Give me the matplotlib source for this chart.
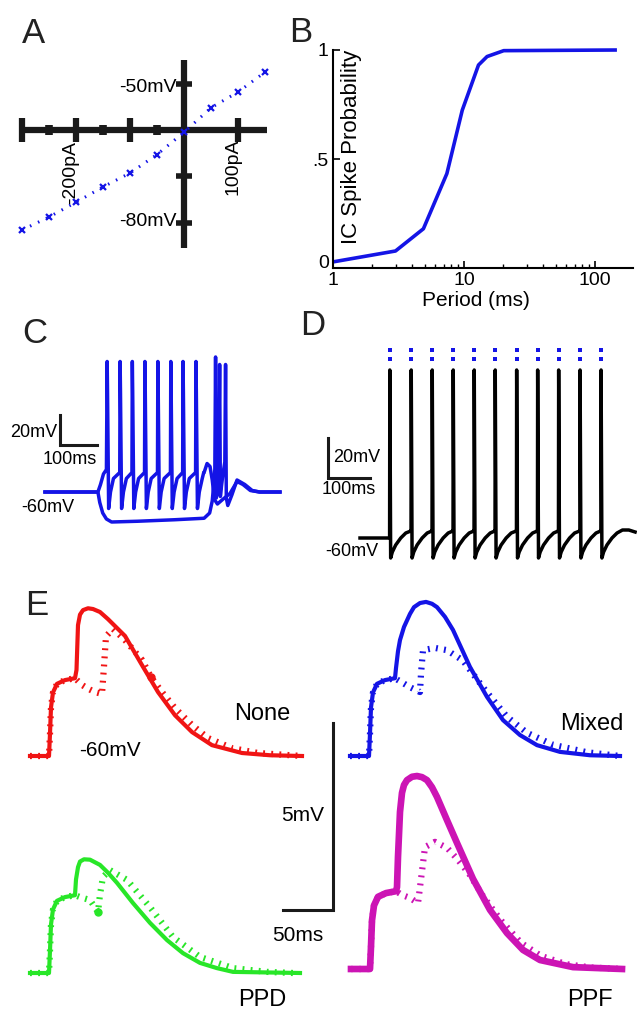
import matplotlib.pyplot as plt
import matplotlib.transforms as mtransforms
import numpy as np

plt.rcParams['font.family'] = ['Liberation Sans', 'DejaVu Sans']

W, H = 637, 1013
fig = plt.figure(figsize=(W / 100, H / 100), dpi=100)

# ---- data ----
# A: I-V relation (pA, mV)
iv_current = [-300, -250, -200, -150, -100, -50, 0, 50, 100, 150]
iv_voltage = [-81.6, -78.8, -75.6, -72.3, -69.3, -65.3, -60.5, -55.2, -51.8, -47.5]
iv_big_ticks_i = [-300, -200, -100, 100]
iv_small_ticks_i = [-250, -150, -50]
iv_big_ticks_v = [-50, -70, -80]
iv_small_ticks_v = [-55, -65, -75]

# B: spike probability vs stimulus period
period_ms = [1, 3.0, 4.9, 7.4, 9.7, 12.9, 15.0, 20.1, 147]
spike_prob = [0.028, 0.078, 0.18, 0.433, 0.724, 0.931, 0.97, 0.997, 1.0]

# C: current-clamp responses (ms, mV)
c_spike_t = [168, 203, 236, 270, 305, 340, 373, 408]
c_peak, c_trough, c_thresh = 27, -71, -47
c_pre_t = [0, 143, 150, 158, 166]
c_pre_v = [-60, -60, -55, -48, -45]
c_post_t = [430, 438, 446, 452, 458, 466, 480, 500, 519, 535, 555, 580, 635]
c_post_v = [-47, -41, -43, -52, -65, -68, -65, -61, -53, -55, -59, -60, -60]
c_hyp_t = [0, 143, 148, 156, 166, 180, 250, 350, 430, 445, 452, 456, 459, 461, 463,
           466, 469, 472, 474, 477, 481, 486, 488, 490, 494, 505, 519, 540, 560, 580, 635]
c_hyp_v = [-60, -60, -67, -74, -78, -80, -79.5, -78.5, -77.5, -74, -66, -55, -45, 30, -64,
           -58, -50, 25, -63, -56, -48, -40, 25, -64, -69, -62, -52, -55, -59, -60, -60]

# D: entrained firing to periodic input (ms, mV)
d_spike_t = [71, 122, 172, 222, 272, 322, 373, 423, 473, 524, 574]
d_stim_t = [71, 122, 172, 222, 272, 322, 373, 423, 473, 524, 574]
d_peak, d_trough = 24, -70
d_rec_dt = [2, 6, 14, 26, 38]
d_rec_v = [-70, -67, -63.5, -60, -57.5]
d_tail_t = [580, 588, 600, 612, 625, 640, 655]
d_tail_v = [-67, -63.5, -60, -57.5, -56, -56, -57]

# E: paired EPSPs (ms, mV above -60 mV)
epsp1_t = [0, 19, 20, 21, 23, 27, 35, 45]
epsp1_v = [0, 0, 0.6, 1.3, 1.7, 1.93, 2.03, 2.08]

red_t = [46.5, 48, 50, 53, 58, 63, 70, 78, 95, 112, 128, 145, 162, 182, 212, 240, 272]
red_v = [2.3, 3.5, 3.78, 3.9, 3.95, 3.93, 3.85, 3.66, 3.21, 2.43, 1.71, 1.09, 0.64, 0.29, 0.08, 0.02, 0]
red_pp_t = [52, 58, 65, 72, 74, 76, 83, 95, 112, 121, 132, 145, 162, 178, 202, 228, 272]
red_pp_v = [1.9, 1.8, 1.71, 1.66, 2.4, 3.2, 3.4, 3.1, 2.57, 2.11, 1.71, 1.28, 0.83, 0.48, 0.21, 0.08, 0]
red_dot = (121, 2.11)

blue_t = [46, 48, 50, 54, 60, 64, 70, 76, 82, 87, 95, 103, 120, 137, 153, 170, 187, 210, 240, 270]
blue_v = [2.35, 2.8, 3.1, 3.45, 3.8, 3.98, 4.09, 4.12, 4.07, 3.98, 3.72, 3.37, 2.38, 1.58, 0.96, 0.56,
          0.29, 0.11, 0.02, 0]
blue_pp_t = [48, 60, 70, 71, 73, 85, 97, 113, 120, 137, 157, 177, 203, 237, 270]
blue_pp_v = [2.03, 1.84, 1.71, 2.2, 2.83, 2.89, 2.83, 2.55, 2.3, 1.7, 1.05, 0.62, 0.3, 0.1, 0]

green_t = [46, 48, 50, 54, 60, 70, 78, 87, 103, 120, 137, 153, 170, 187, 203, 270]
green_v = [2.5, 2.83, 2.98, 3.04, 3.03, 2.89, 2.68, 2.41, 1.87, 1.34, 0.88, 0.53, 0.27, 0.13, 0.03, 0]
green_pp_t = [50, 60, 68, 70, 73, 80, 97, 120, 143, 170, 203, 237, 263]
green_pp_v = [2.03, 1.95, 1.63, 2.1, 2.57, 2.75, 2.49, 1.76, 0.96, 0.43, 0.13, 0.03, 0]
green_dot = (68, 1.63)

mag_t = [46, 47, 49, 51, 53, 56, 61, 66, 71, 76, 81, 86, 96, 106, 122, 139, 156, 172, 189, 222, 271]
mag_v = [2.19, 3.0, 4.2, 4.71, 4.92, 5.05, 5.14, 5.16, 5.13, 5.05, 4.86, 4.6, 3.98, 3.37, 2.41, 1.58,
         0.96, 0.51, 0.24, 0.05, 0]
mag_pp_t = [51, 59, 67, 70, 74, 84, 96, 106, 118, 132, 150, 170, 190, 215, 240, 271]
mag_pp_v = [1.98, 1.9, 1.76, 2.4, 3.26, 3.4, 3.24, 2.95, 2.55, 1.95, 1.3, 0.7, 0.35, 0.13, 0.04, 0]

RED, BLUE, GREEN, MAG = '#f01414', '#1414e6', '#28e628', '#cc14b4'


def px_axes(box, origin, scale):
    # box in pixels (left, top, right, bottom); origin = pixel of data (0, 0)
    l, t, r, b = box
    ox, oy = origin
    sx, sy = scale
    ax = fig.add_axes([l / W, 1 - b / H, (r - l) / W, (b - t) / H])
    ax.set_xlim((l - ox) / sx, (r - ox) / sx)
    ax.set_ylim((oy - b) / sy, (oy - t) / sy)
    ax.axis('off')
    return ax


def txt(x, y, s, size, **kw):
    kw.setdefault('va', 'center')
    fig.text(x / W, 1 - y / H, s, fontsize=size, **kw)


# ---- A ----
axA = px_axes((0, 50, 280, 260), (184, 130 - 60 * 4.63), (0.54, 4.63))
k = dict(color='#1a1a1a', solid_capstyle='butt', clip_on=False)
axA.plot([-300, 153], [-60, -60], lw=4.5, **k)
axA.plot([0, 0], [-44.9, -85.5], lw=4.5, **k)
for i in iv_big_ticks_i:
    axA.plot([i, i], [-62.6, -57.4], lw=4.5, **k)
for i in iv_small_ticks_i:
    axA.plot([i, i], [-61.1, -58.9], lw=5.5, **k)
for v in iv_big_ticks_v:
    axA.plot([-15, 15], [v, v], lw=4, **k)
for v in iv_small_ticks_v:
    axA.plot([-6, 6], [v, v], lw=4, **k)
axA.plot(iv_current, iv_voltage, color=BLUE, lw=2.2, ls=(0, (0.5, 2.4)),
         dash_capstyle='butt', clip_on=False)
axA.plot(iv_current, iv_voltage, 'x', color=BLUE, ms=4, mew=1.6, clip_on=False)
txt(177, 88, '-50mV', 14, ha='right')
txt(177, 222, '-80mV', 14, ha='right')
txt(71, 172, '-200pA', 14, ha='center', rotation=90)
txt(233, 167, '100pA', 14, ha='center', rotation=90)

# ---- B ----
axB = fig.add_axes([333 / W, 1 - 268 / H, 300 / W, 218 / H])
axB.plot(period_ms, spike_prob, color=BLUE, lw=2.6, solid_capstyle='butt', clip_on=False)
axB.set_xscale('log')
axB.set_xlim(1, 195)
axB.set_ylim(0, 1)
for s in ['top', 'right']:
    axB.spines[s].set_visible(False)
for s in ['left', 'bottom']:
    axB.spines[s].set_linewidth(1.5)
axB.set_xticks([1, 10, 100])
axB.set_xticklabels(['1', '10', '100'])
axB.set_yticks([0, 0.5, 1])
axB.set_yticklabels(['0', '.5', '1'])
axB.tick_params(direction='in', labelsize=14, length=5, width=1.2)
axB.tick_params(axis='x', pad=3)
axB.tick_params(axis='y', pad=3)
axB.tick_params(which='minor', direction='in', length=3, width=1)
# lift the "0" label clear of the "1" below it
lift = mtransforms.ScaledTranslation(0, 6 / 100, fig.dpi_scale_trans)
zero_lbl = axB.get_yticklabels()[0]
zero_lbl.set_transform(zero_lbl.get_transform() + lift)
txt(476, 301, 'Period (ms)', 15, ha='center')
txt(352, 147, 'IC Spike Probability', 16, ha='center', rotation=90)

# ---- C ----
axC = px_axes((0, 340, 300, 545), (45, 402), (0.37, 1.5))
ct, cv = list(c_pre_t), list(c_pre_v)
for n, t in enumerate(c_spike_t):
    nxt = c_spike_t[n + 1] if n + 1 < len(c_spike_t) else 430
    ct += [t, t + 1, t + 4, t + 9, t + 17, nxt - 1]
    cv += [c_peak, c_peak - 20, c_trough, -60, -51, c_thresh]
ct += c_post_t
cv += c_post_v
kc = dict(color=BLUE, lw=2.5, solid_joinstyle='round', clip_on=False)
axC.plot(c_hyp_t, c_hyp_v, **kc)
axC.plot(ct, cv, **kc)
axC.plot([40.5, 40.5, 140.5], [-8.7, -28.7, -28.7], color='#1a1a1a', lw=2.2,
         solid_joinstyle='miter', clip_on=False)
txt(57, 432, '20mV', 13, ha='right')
txt(70, 459, '100ms', 13, ha='center')
txt(48, 508, '-60mV', 13, ha='center')

# ---- D ----
axD = px_axes((300, 340, 637, 570), (360, 418), (0.42, 2.0))
dt, dv = [0], [-60]
for n, t in enumerate(d_spike_t):
    dt += [t - 0.5, t]
    dv += [-56.5 if n else -60, d_peak]
    if n + 1 < len(d_spike_t):
        dt += [t + x for x in d_rec_dt] + [d_spike_t[n + 1] - 1]
        dv += d_rec_v + [-56.5]
    else:
        dt += [t + 2]
        dv += [d_trough]
dt += d_tail_t
dv += d_tail_v
axD.plot(dt, dv, color='black', lw=2.5, solid_joinstyle='round', clip_on=False)
axD.plot(d_stim_t, [34] * len(d_stim_t), 's', color=BLUE, ms=3, mew=0, clip_on=False)
axD.plot(d_stim_t, [29.5] * len(d_stim_t), 's', color=BLUE, ms=3, mew=0, clip_on=False)
axD.plot([-76, -76, 24], [-10, -30, -30], color='#1a1a1a', lw=2.2,
         solid_joinstyle='miter', clip_on=False)
txt(333, 457, '20mV', 13, ha='left')
txt(349, 489, '100ms', 13, ha='center')
txt(352, 551, '-60mV', 13, ha='center')

# ---- E ----
dotted = dict(lw=4.5, ls=(0, (0.3, 1.0)), dash_capstyle='butt', clip_on=False)


def epsp_pair(ax, col, sol_t, sol_v, pp_t, pp_v, lw, dot=None):
    ax.plot(epsp1_t + pp_t, epsp1_v + pp_v, color=col, **dotted)
    ax.plot(epsp1_t + sol_t, epsp1_v + sol_v, color=col, lw=lw,
            solid_joinstyle='round', clip_on=False)
    if dot:
        ax.plot(*dot, 'o', color=col, ms=5, clip_on=False)


axE1 = px_axes((20, 590, 315, 765), (30, 756), (1.0, 37.4))
axE2 = px_axes((340, 590, 635, 765), (350, 756), (1.0, 37.4))
axE3 = px_axes((20, 830, 315, 985), (30, 973), (1.0, 37.4))
axE4 = px_axes((340, 760, 635, 985), (351, 969), (1.0, 37.4))
epsp_pair(axE1, RED, red_t, red_v, red_pp_t, red_pp_v, 3.0, red_dot)
epsp_pair(axE2, BLUE, blue_t, blue_v, blue_pp_t, blue_pp_v, 3.0)
epsp_pair(axE3, GREEN, green_t, green_v, green_pp_t, green_pp_v, 3.0, green_dot)
epsp_pair(axE4, MAG, mag_t, mag_v, mag_pp_t, mag_pp_v, 4.8)
axE4.plot([-18, -18, -68], [6.58, 1.58, 1.58], color='#1a1a1a', lw=2.2,
          solid_joinstyle='miter', clip_on=False)
txt(262, 714, 'None', 17, ha='center')
txt(110, 750, '-60mV', 15, ha='center')
txt(592, 724, 'Mixed', 17, ha='center')
txt(303, 815, '5mV', 15, ha='center')
txt(298, 935, '50ms', 15, ha='center')
txt(262, 1000, 'PPD', 17, ha='center')
txt(590, 1000, 'PPF', 17, ha='center')

# panel letters
for x, y, s in [(22, 43, 'A'), (289, 42, 'B'), (22, 343, 'C'), (300, 335, 'D'), (25, 615, 'E')]:
    txt(x, y, s, 25, ha='left', va='baseline', color='#222222')

fig.savefig('out.png', dpi=100)
